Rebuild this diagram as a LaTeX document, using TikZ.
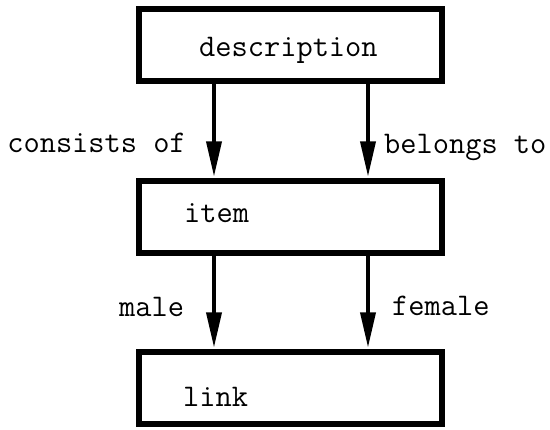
\documentclass[tikz,border=0pt]{standalone}
\usetikzlibrary{arrows.meta,calc}
\begin{document}
\begin{tikzpicture}[x=1pt,y=-1pt,
  box/.style={draw=black,line width=6pt,rectangle,inner sep=0pt,minimum width=303pt,minimum height=72pt},
  txt/.style={inner sep=0pt,font=\ttfamily\fontsize{31.5}{36}\selectfont},
  arr/.style={line width=3.5pt,-{Triangle[length=35pt,width=15pt]},shorten >=2pt}]
\useasboundingbox (0,0) rectangle (550,430);
% boxes
\node[box] (desc) at (290.5,45) {};
\node[box] (item) at (290.5,217.5) {};
\node[box] (link) at (290.5,388.5) {};
% box texts
\node[txt,anchor=base west] (descT) at (199,57) {description};
\node[txt,anchor=base west] (itemT) at (184,223) {item};
\node[txt,anchor=base west] (linkT) at (183,407) {link};
% arrows
\draw[arr] ([xshift=-76.5pt]desc.south) -- ([xshift=-76.5pt]item.north);
\draw[arr] ([xshift=77.5pt]desc.south) -- ([xshift=77.5pt]item.north);
\draw[arr] ([xshift=-76.5pt]item.south) -- ([xshift=-76.5pt]link.north);
\draw[arr] ([xshift=77.5pt]item.south) -- ([xshift=77.5pt]link.north);
% labels
\node[txt,anchor=base east] (l1) at (186,153) {consists of};
\node[txt,anchor=base west] (l2) at (384,154) {belongs to};
\node[txt,anchor=base west] (l3) at (119,317) {male};
\node[txt,anchor=base west] (l4) at (392,316) {female};
\end{tikzpicture}
\end{document}
